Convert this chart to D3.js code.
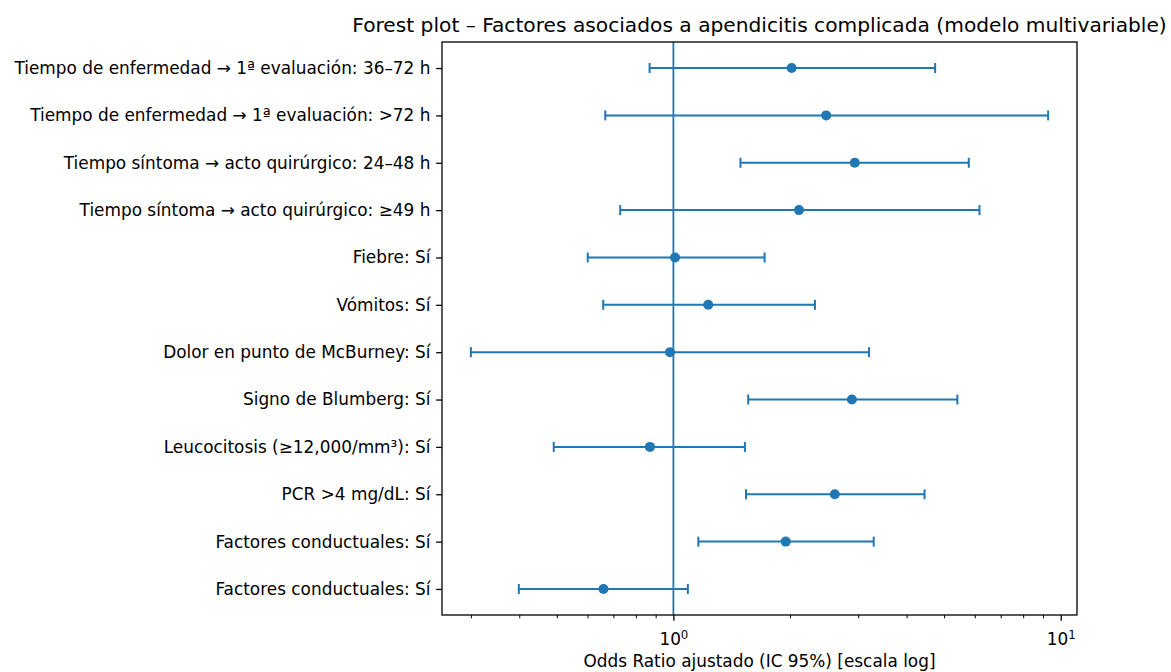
<!DOCTYPE html>
<html>
<head>
<meta charset="utf-8">
<script src="https://cdn.jsdelivr.net/npm/d3@7"></script>
<style>
  html, body { margin: 0; padding: 0; background: #fff; }
  svg { display: block; font-family: "DejaVu Sans", sans-serif; }
</style>
</head>
<body>
<svg id="chart" width="1171" height="672"></svg>
<script>
// ---- data ----
const categories = [
  "Tiempo de enfermedad → 1ª evaluación: 36–72 h",
  "Tiempo de enfermedad → 1ª evaluación: >72 h",
  "Tiempo síntoma → acto quirúrgico: 24–48 h",
  "Tiempo síntoma → acto quirúrgico: ≥49 h",
  "Fiebre: Sí",
  "Vómitos: Sí",
  "Dolor en punto de McBurney: Sí",
  "Signo de Blumberg: Sí",
  "Leucocitosis (≥12,000/mm³): Sí",
  "PCR >4 mg/dL: Sí",
  "Factores conductuales: Sí",
  "Factores conductuales: Sí"
];
const orValues = [2.02, 2.48, 2.94, 2.11, 1.01, 1.23, 0.98, 2.89, 0.87, 2.61, 1.95, 0.66];
const ciLower  = [0.868, 0.667, 1.49, 0.729, 0.601, 0.659, 0.300, 1.56, 0.491, 1.54, 1.16, 0.399];
const ciUpper  = [4.74, 9.28, 5.79, 6.17, 1.72, 2.32, 3.20, 5.41, 1.53, 4.45, 3.29, 1.09];
const referenceValue = 1;
const titleText = "Forest plot – Factores asociados a apendicitis complicada (modelo multivariable)";
const xLabelText = "Odds Ratio ajustado (IC 95%) [escala log]";

// ---- layout ----
const margin = { top: 42, right: 94, bottom: 57, left: 442 };
const W = 1171, H = 672;
const iw = W - margin.left - margin.right;
const ih = H - margin.top - margin.bottom;
const color = "#1f77b4";
const tickFont = "16.9px";

const svg = d3.select("#chart");
const g = svg.append("g").attr("transform", `translate(${margin.left},${margin.top})`);

const rows = categories.map((c, i) => ({ key: i, label: c, or: orValues[i], lo: ciLower[i], hi: ciUpper[i] }));

// x log scale with matplotlib-like 5% margins (in log space)
const lmin = Math.log10(d3.min(ciLower)), lmax = Math.log10(d3.max(ciUpper));
const pad = 0.05 * (lmax - lmin);
const x = d3.scaleLog().domain([Math.pow(10, lmin - pad), Math.pow(10, lmax + pad)]).range([0, iw]);

const y = d3.scalePoint().domain(rows.map(d => d.key)).range([0, ih]).padding(0.55);

// reference line
g.append("line")
  .attr("x1", x(referenceValue)).attr("x2", x(referenceValue))
  .attr("y1", 0).attr("y2", ih)
  .attr("stroke", color).attr("stroke-width", 1.8);

// error bars
const cap = 5;
const eb = g.append("g").selectAll("g").data(rows).join("g");
eb.append("line")
  .attr("x1", d => x(d.lo)).attr("x2", d => x(d.hi))
  .attr("y1", d => y(d.key)).attr("y2", d => y(d.key))
  .attr("stroke", color).attr("stroke-width", 2);
eb.append("line")
  .attr("x1", d => x(d.lo)).attr("x2", d => x(d.lo))
  .attr("y1", d => y(d.key) - cap).attr("y2", d => y(d.key) + cap)
  .attr("stroke", color).attr("stroke-width", 2);
eb.append("line")
  .attr("x1", d => x(d.hi)).attr("x2", d => x(d.hi))
  .attr("y1", d => y(d.key) - cap).attr("y2", d => y(d.key) + cap)
  .attr("stroke", color).attr("stroke-width", 2);
eb.append("circle")
  .attr("cx", d => x(d.or)).attr("cy", d => y(d.key))
  .attr("r", 5).attr("fill", color);

// y axis
const yAxis = g.append("g")
  .call(d3.axisLeft(y).tickSize(5.8).tickPadding(5.8).tickFormat(k => categories[k]));
yAxis.select(".domain").remove();
yAxis.selectAll(".tick line").attr("stroke", "#000").attr("stroke-width", 1.3);
yAxis.selectAll(".tick text").attr("font-size", tickFont).attr("fill", "#000")
  .attr("font-family", "DejaVu Sans");

// x axis: major ticks at decades, minor ticks at others
const allTicks = x.ticks();
const majors = allTicks.filter(t => Math.abs(Math.log10(t) - Math.round(Math.log10(t))) < 1e-9);
const minors = allTicks.filter(t => !majors.includes(t));

const xMinor = g.append("g").attr("transform", `translate(0,${ih})`)
  .call(d3.axisBottom(x).tickValues(minors).tickSize(3.3).tickFormat(""));
xMinor.select(".domain").remove();
xMinor.selectAll(".tick line").attr("stroke", "#000").attr("stroke-width", 1);

const xMajor = g.append("g").attr("transform", `translate(0,${ih})`)
  .call(d3.axisBottom(x).tickValues(majors).tickSize(5.8).tickPadding(5.8).tickFormat(""));
xMajor.select(".domain").remove();
xMajor.selectAll(".tick line").attr("stroke", "#000").attr("stroke-width", 1.3);
xMajor.selectAll(".tick text")
  .attr("font-size", tickFont).attr("fill", "#000").attr("font-family", "DejaVu Sans")
  .attr("dy", "1.1em")
  .each(function(d) {
    const t = d3.select(this);
    t.text("10");
    t.append("tspan").attr("dy", "-0.5em").attr("font-size", "11.8px").text(Math.round(Math.log10(d)));
  });

// frame
g.append("rect").attr("x", 0).attr("y", 0).attr("width", iw).attr("height", ih)
  .attr("fill", "none").attr("stroke", "#000").attr("stroke-width", 1.3);

// title & label
svg.append("text")
  .attr("x", margin.left + iw / 2).attr("y", margin.top - 10)
  .attr("text-anchor", "middle").attr("font-size", "20.2px").attr("fill", "#000")
  .text(titleText);
svg.append("text")
  .attr("x", margin.left + iw / 2).attr("y", H - 5)
  .attr("text-anchor", "middle").attr("font-size", tickFont).attr("fill", "#000")
  .text(xLabelText);
</script>
</body>
</html>
